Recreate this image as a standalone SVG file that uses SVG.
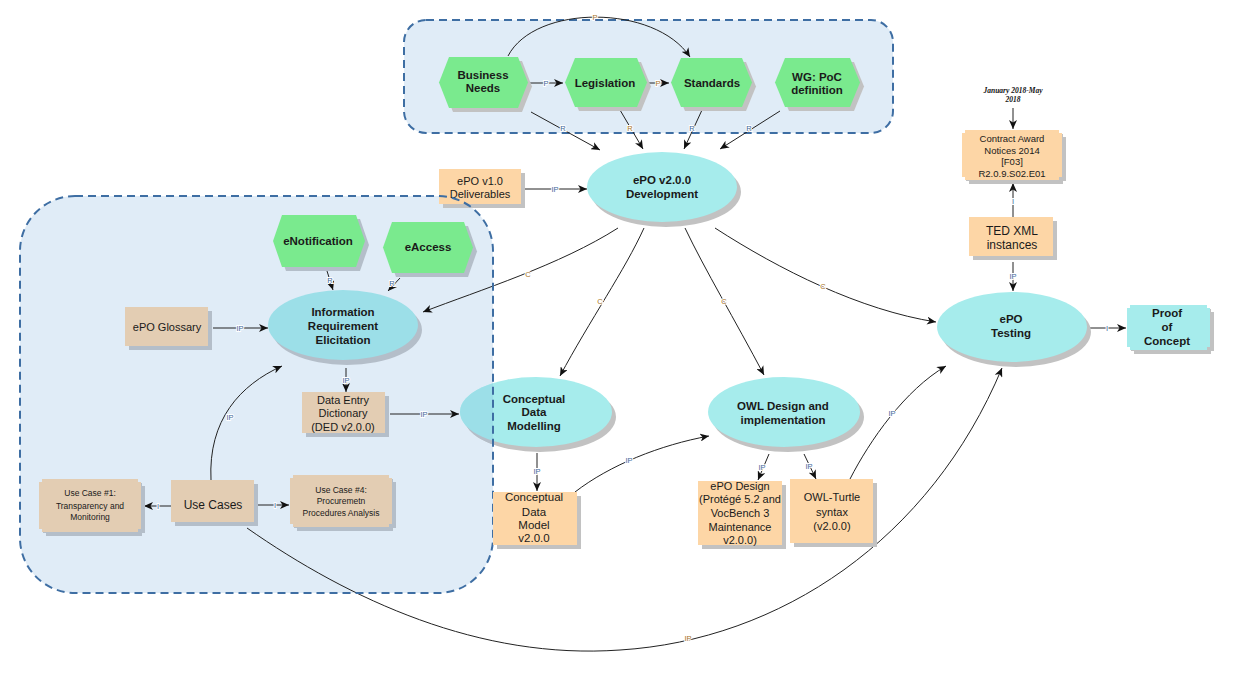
<svg xmlns="http://www.w3.org/2000/svg" width="1250" height="690" viewBox="0 0 1250 690">
<defs>
<marker id="ah" markerUnits="userSpaceOnUse" markerWidth="9" markerHeight="8" refX="9" refY="4" orient="auto">
<path d="M0,0 L9,4 L0,8 L2.5,4 Z" fill="#111"/>
</marker>
<clipPath id="leftClip"><rect x="20" y="196" width="473" height="397" rx="55"/></clipPath>
</defs>
<style>
.grp{fill:#e0ecf7;stroke:none}
.grpb{fill:none;stroke:#3e6ea3;stroke-width:2;stroke-dasharray:8 5}
.hex{fill:#7aea8e}
.sh{fill:#c2c2c2}
.shg{fill:#b4bec9}
.ell{fill:#a6ecec}
.elli{fill:#9cdfe8}
.org{fill:#fdd6a6}
.tan{fill:#e3cdb3}
.cy{fill:#a6ecec}
.c{fill:none;stroke:#222;stroke-width:1;marker-end:url(#ah)}
text{font-family:"Liberation Sans",Arial,sans-serif;fill:#1a1a1a;text-anchor:middle}
.b{font-weight:bold;font-size:11.5px}
.n{font-size:11px}
.s{font-size:8.5px}
.lb{font-size:7.5px;stroke:#fff;stroke-width:2;paint-order:stroke}
.lo{fill:#a8741c}
.lu{fill:#40699a}
.dt{font-family:"Liberation Serif","Times New Roman",serif;font-style:italic;font-weight:bold;font-size:7.5px;fill:#111}
</style>

<!-- group backgrounds -->
<g id="group-top">
<rect class="grp" x="404" y="20" width="489" height="113" rx="22"/>
<rect class="grpb" x="404" y="20" width="489" height="113" rx="22"/>
</g>
<g id="group-left-bg">
<rect class="grp" x="20" y="196" width="473" height="397" rx="55"/>
</g>

<!-- connectors -->
<g id="connectors">
<path class="c" d="M508 56 C535 4 655 4 690 57"/>
<path class="c" d="M530 83 L563 83"/>
<path class="c" d="M649 83 L669 83"/>
<path class="c" d="M531 112 L600 150"/>
<path class="c" d="M620 110 L643 149"/>
<path class="c" d="M702 110 L684 149"/>
<path class="c" d="M780 111 L720 149"/>
<path class="c" d="M525 189 L587 189"/>
<path class="c" d="M618 228 C560 265 480 290 423 312"/>
<path class="c" d="M644 228 C625 270 590 320 560 376"/>
<path class="c" d="M685 228 C705 270 735 320 764 375"/>
<path class="c" d="M715 228 C780 270 860 310 936 322"/>
<path class="c" d="M213 328 L268 328"/>
<path class="c" d="M327 271 L333 290"/>
<path class="c" d="M400 278 L388 291"/>
<path class="c" d="M346 368 L346 392"/>
<path class="c" d="M390 414 L459 414"/>
<path class="c" d="M171 506 L144 506"/>
<path class="c" d="M258 505 L289 505"/>
<path class="c" d="M211 480 C208 420 240 385 282 366"/>
<path class="c" d="M247 528 C350 600 480 660 620 650 C780 640 930 540 1002 368"/>
<path class="c" d="M537 453 L537 491"/>
<path class="c" d="M575 492 C610 465 660 445 709 436"/>
<path class="c" d="M769 454 L758 480"/>
<path class="c" d="M804 454 L816 479"/>
<path class="c" d="M850 479 C870 440 905 390 946 366"/>
<path class="c" d="M1090 328 L1126 328"/>
<path class="c" d="M1013 217 L1013 183"/>
<path class="c" d="M1013 262 L1013 291"/>
<path class="c" d="M1013 108 L1013 129"/>
<text class="lb lo" x="595" y="20">P</text>
<text class="lb lu" x="546" y="86">P</text>
<text class="lb lo" x="658" y="86">P</text>
<text class="lb lu" x="563" y="131">R</text>
<text class="lb lo" x="630" y="131">R</text>
<text class="lb lu" x="692" y="131">R</text>
<text class="lb lu" x="749" y="131">R</text>
<text class="lb lu" x="555" y="192">IP</text>
<text class="lb lo" x="528" y="277">C</text>
<text class="lb lo" x="600" y="304">C</text>
<text class="lb lo" x="724" y="304">C</text>
<text class="lb lo" x="823" y="289">C</text>
<text class="lb lu" x="240" y="331">IP</text>
<text class="lb lu" x="330" y="283">R</text>
<text class="lb lu" x="392" y="286">R</text>
<text class="lb lu" x="346" y="383">IP</text>
<text class="lb lu" x="424" y="417">IP</text>
<text class="lb lu" x="158" y="509">I</text>
<text class="lb lu" x="275" y="508">I</text>
<text class="lb lu" x="230" y="420">IP</text>
<text class="lb lo" x="688" y="641">IP</text>
<text class="lb lu" x="537" y="474">IP</text>
<text class="lb lu" x="629" y="463">IP</text>
<text class="lb lu" x="762" y="470">IP</text>
<text class="lb lu" x="809" y="469">IP</text>
<text class="lb lu" x="892" y="416">IP</text>
<text class="lb lu" x="1107" y="331">I</text>
<text class="lb lu" x="1013" y="204">I</text>
<text class="lb lu" x="1013" y="279">IP</text>
</g>

<!-- top group nodes -->
<g id="business-needs">
<polygon class="sh" transform="translate(4,4)" points="439,82.5 449,57 518,57 528,82.5 518,108 449,108"/>
<polygon class="hex" points="439,82.5 449,57 518,57 528,82.5 518,108 449,108"/>
<text class="b" x="483" y="79">Business</text><text class="b" x="483" y="92">Needs</text>
</g>
<g id="legislation">
<polygon class="sh" transform="translate(4,4)" points="565,82.5 575,58 637,58 647,82.5 637,107 575,107"/>
<polygon class="hex" points="565,82.5 575,58 637,58 647,82.5 637,107 575,107"/>
<text class="b" x="605" y="87">Legislation</text>
</g>
<g id="standards">
<polygon class="sh" transform="translate(4,4)" points="671,82.5 681,58 742,58 752,82.5 742,107 681,107"/>
<polygon class="hex" points="671,82.5 681,58 742,58 752,82.5 742,107 681,107"/>
<text class="b" x="712" y="87">Standards</text>
</g>
<g id="wg-poc">
<polygon class="sh" transform="translate(4,4)" points="775,82.5 785,58 850,58 860,82.5 850,107 785,107"/>
<polygon class="hex" points="775,82.5 785,58 850,58 860,82.5 850,107 785,107"/>
<text class="b" x="817" y="81">WG: PoC</text><text class="b" x="817" y="94">definition</text>
</g>

<g id="epo-v2-development">
<ellipse class="sh" cx="666" cy="192" rx="75" ry="35"/>
<ellipse class="ell" cx="662" cy="187" rx="75" ry="35"/>
<text class="b" x="662" y="184">ePO v2.0.0</text><text class="b" x="662" y="198">Development</text>
</g>
<g id="epo-v1-deliverables">
<rect class="sh" x="443" y="173" width="82" height="35"/>
<rect class="org" x="439" y="169" width="82" height="35"/>
<text class="n" x="480" y="185">ePO v1.0</text><text class="n" x="480" y="198">Deliverables</text>
</g>

<!-- left group nodes -->
<g id="enotification">
<polygon class="shg" transform="translate(4,4)" points="273,241 282,215 356,215 365,241 356,267 282,267"/>
<polygon class="hex" points="273,241 282,215 356,215 365,241 356,267 282,267"/>
<text class="b" x="318" y="245">eNotification</text>
</g>
<g id="eaccess">
<polygon class="shg" transform="translate(4,4)" points="383,247.5 392,222 464,222 473,247.5 464,273 392,273"/>
<polygon class="hex" points="383,247.5 392,222 464,222 473,247.5 464,273 392,273"/>
<text class="b" x="428" y="251">eAccess</text>
</g>
<g id="information-requirement-elicitation">
<ellipse class="shg" cx="347" cy="330" rx="75" ry="35"/>
<ellipse class="elli" cx="343" cy="325" rx="75" ry="35"/>
<text class="b" x="343" y="316">Information</text><text class="b" x="343" y="330">Requirement</text><text class="b" x="343" y="344">Elicitation</text>
</g>
<g id="epo-glossary">
<rect class="shg" x="129" y="311" width="83" height="39"/>
<rect class="tan" x="125" y="307" width="83" height="39"/>
<text class="n" x="167" y="331">ePO Glossary</text>
</g>
<g id="data-entry-dictionary">
<rect class="shg" x="306" y="396" width="83" height="41"/>
<rect class="tan" x="302" y="392" width="83" height="41"/>
<text class="n" x="343" y="404">Data Entry</text><text class="n" x="343" y="417">Dictionary</text><text class="n" x="343" y="431">(DED v2.0.0)</text>
</g>
<g id="use-cases">
<rect class="shg" x="175" y="484" width="83" height="42"/>
<rect class="tan" x="171" y="480" width="83" height="42"/>
<text x="213" y="509" style="font-size:12px">Use Cases</text>
</g>
<g id="use-case-1">
<path class="shg" transform="translate(4,4)" d="M42 479 H138 V482 H141 V529 H138 V532 H42 V529 H39 V482 H42 Z"/>
<path class="tan" d="M42 479 H138 V482 H141 V529 H138 V532 H42 V529 H39 V482 H42 Z"/>
<text class="s" x="90" y="496">Use Case #1:</text><text class="s" x="90" y="509">Transparency and</text><text class="s" x="90" y="520">Monitoring</text>
</g>
<g id="use-case-4">
<path class="shg" transform="translate(4,4)" d="M293 475 H389 V478 H392 V524 H389 V527 H293 V524 H290 V478 H293 Z"/>
<path class="tan" d="M293 475 H389 V478 H392 V524 H389 V527 H293 V524 H290 V478 H293 Z"/>
<text class="s" x="341" y="493">Use Case #4:</text><text class="s" x="341" y="504">Procuremetn</text><text class="s" x="341" y="516">Procedures Analysis</text>
</g>

<!-- middle nodes -->
<g id="conceptual-data-modelling">
<ellipse class="sh" cx="540" cy="417" rx="76" ry="35"/>
<ellipse class="ell" cx="536" cy="412" rx="76" ry="35"/>
<g clip-path="url(#leftClip)">
<ellipse class="shg" cx="540" cy="417" rx="76" ry="35"/>
<ellipse class="elli" cx="536" cy="412" rx="76" ry="35"/>
</g>
<text class="b" x="534" y="403">Conceptual</text><text class="b" x="534" y="416">Data</text><text class="b" x="534" y="430">Modelling</text>
</g>
<rect id="group-left-border" class="grpb" x="20" y="196" width="473" height="397" rx="55"/>
<g id="conceptual-data-model">
<rect class="sh" x="497" y="496" width="84" height="53"/>
<rect class="org" x="493" y="492" width="84" height="53"/>
<text x="534" y="501" style="font-size:11.5px">Conceptual</text><text x="534" y="516" style="font-size:11.5px">Data</text><text x="534" y="529" style="font-size:11.5px">Model</text><text x="534" y="542" style="font-size:11.5px">v2.0.0</text>
</g>
<g id="owl-design">
<ellipse class="sh" cx="788" cy="417" rx="76" ry="35"/>
<ellipse class="ell" cx="784" cy="412" rx="76" ry="35"/>
<text class="b" x="783" y="410">OWL Design and</text><text class="b" x="783" y="424">implementation</text>
</g>
<g id="epo-design">
<rect class="sh" x="702" y="485" width="84" height="64"/>
<rect class="org" x="698" y="481" width="84" height="64"/>
<text class="n" x="740" y="490">ePO Design</text><text class="n" x="740" y="503">(Protégé 5.2 and</text><text class="n" x="740" y="517">VocBench 3</text><text class="n" x="740" y="531">Maintenance</text><text class="n" x="740" y="544">v2.0.0)</text>
</g>
<g id="owl-turtle">
<rect class="sh" x="794" y="483" width="83" height="64"/>
<rect class="org" x="790" y="479" width="83" height="64"/>
<text class="n" x="832" y="501">OWL-Turtle</text><text class="n" x="832" y="516">syntax</text><text class="n" x="832" y="530">(v2.0.0)</text>
</g>

<!-- right nodes -->
<g id="epo-testing">
<ellipse class="sh" cx="1016" cy="332" rx="75" ry="35"/>
<ellipse class="ell" cx="1012" cy="327" rx="75" ry="35"/>
<text class="b" x="1011" y="323">ePO</text><text class="b" x="1011" y="337">Testing</text>
</g>
<g id="proof-of-concept">
<path class="sh" transform="translate(4,4)" d="M1130 305 H1207 V308 H1210 V347 H1207 V350 H1130 V347 H1127 V308 H1130 Z"/>
<path class="cy" d="M1130 305 H1207 V308 H1210 V347 H1207 V350 H1130 V347 H1127 V308 H1130 Z"/>
<text class="b" x="1167" y="317">Proof</text><text class="b" x="1167" y="331">of</text><text class="b" x="1167" y="345">Concept</text>
</g>
<g id="ted-xml-instances">
<rect class="sh" x="973" y="221" width="84" height="39"/>
<rect class="org" x="969" y="217" width="84" height="39"/>
<text x="1012" y="235" style="font-size:12px">TED XML</text><text x="1012" y="249" style="font-size:12px">instances</text>
</g>
<g id="contract-award-notices">
<path class="sh" transform="translate(4,4)" d="M965 130 H1059 V133 H1062 V177 H1059 V180 H965 V177 H962 V133 H965 Z"/>
<path class="org" d="M965 130 H1059 V133 H1062 V177 H1059 V180 H965 V177 H962 V133 H965 Z"/>
<text x="1012" y="142" style="font-size:9.5px">Contract Award</text><text x="1012" y="154" style="font-size:9.5px">Notices 2014</text><text x="1012" y="165" style="font-size:9.5px">[F03]</text><text x="1012" y="177" style="font-size:9.5px">R2.0.9.S02.E01</text>
</g>
<g id="date-note">
<text class="dt" x="1013" y="93">January 2018-May</text><text class="dt" x="1013" y="102">2018</text>
</g>
</svg>
